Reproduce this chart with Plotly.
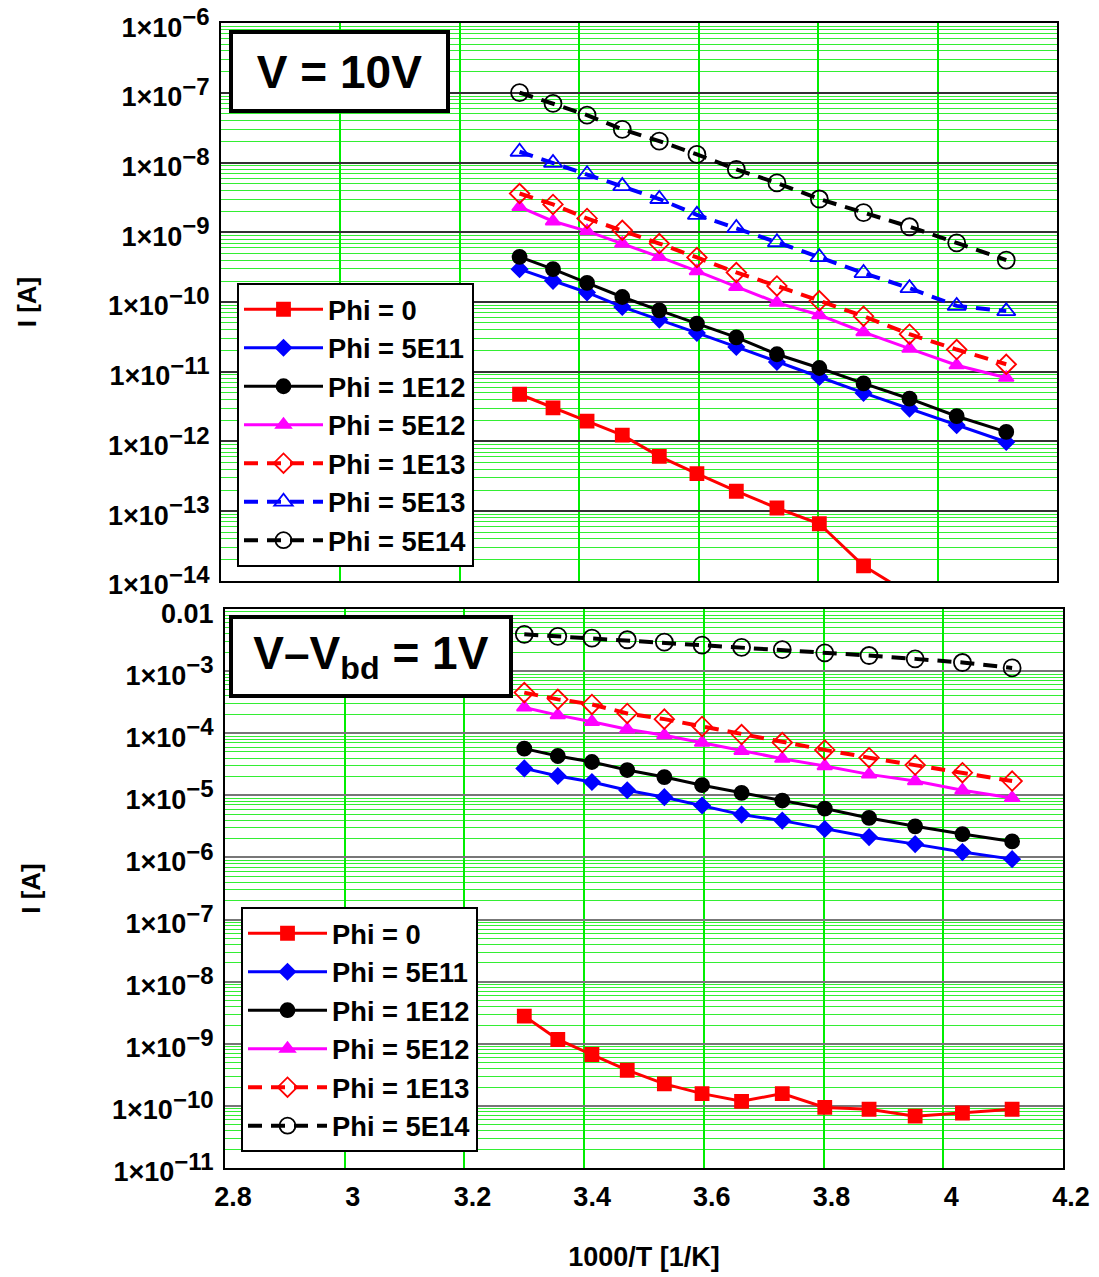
import plotly.graph_objects as go

# ---------------- data ----------------
inv_T = [3.300, 3.356, 3.413, 3.472, 3.534, 3.597, 3.663, 3.731, 3.802, 3.876, 3.953, 4.032, 4.115]

# V = 10 V
top_phi0 = [4.75e-12, 3.03e-12, 1.95e-12, 1.23e-12, 6.1e-13, 3.46e-13, 1.93e-13, 1.11e-13, 6.6e-14, 1.64e-14, 6.5e-15, 4.0e-15, 2.5e-15]
top_phi5e11 = [2.96e-10, 2.01e-10, 1.37e-10, 8.5e-11, 5.6e-11, 3.6e-11, 2.27e-11, 1.38e-11, 8.4e-12, 4.96e-12, 2.96e-12, 1.71e-12, 9.8e-13]
top_phi1e12 = [4.43e-10, 2.96e-10, 1.88e-10, 1.18e-10, 7.6e-11, 4.9e-11, 3.1e-11, 1.78e-11, 1.13e-11, 6.8e-12, 4.1e-12, 2.3e-12, 1.37e-12]
top_phi5e12 = [2.31e-9, 1.44e-9, 1.04e-9, 6.9e-10, 4.43e-10, 2.77e-10, 1.65e-10, 9.8e-11, 6.5e-11, 3.7e-11, 2.15e-11, 1.24e-11, 8.2e-12]
top_phi1e13 = [3.6e-9, 2.51e-9, 1.58e-9, 1.07e-9, 6.9e-10, 4.35e-10, 2.65e-10, 1.70e-10, 1.04e-10, 6.25e-11, 3.45e-11, 2.08e-11, 1.28e-11]
top_phi5e13 = [1.43e-8, 9.9e-9, 6.8e-9, 4.6e-9, 3.0e-9, 1.78e-9, 1.15e-9, 7.2e-10, 4.4e-10, 2.6e-10, 1.58e-10, 8.8e-11, 7.4e-11]
top_phi5e14 = [1.01e-7, 7.05e-8, 4.8e-8, 3.0e-8, 2.03e-8, 1.31e-8, 7.96e-9, 5.1e-9, 3.0e-9, 1.92e-9, 1.2e-9, 7.05e-10, 4.0e-10]

# V - Vbd = 1 V
bot_phi0 = [2.79e-9, 1.17e-9, 6.7e-10, 3.74e-10, 2.25e-10, 1.57e-10, 1.18e-10, 1.57e-10, 9.4e-11, 8.8e-11, 6.8e-11, 7.65e-11, 8.8e-11]
bot_phi5e11 = [2.72e-5, 2.05e-5, 1.64e-5, 1.21e-5, 9.35e-6, 6.86e-6, 4.9e-6, 3.92e-6, 2.87e-6, 2.13e-6, 1.64e-6, 1.22e-6, 9.4e-7]
bot_phi1e12 = [5.66e-5, 4.31e-5, 3.45e-5, 2.56e-5, 1.97e-5, 1.46e-5, 1.10e-5, 8.26e-6, 6.13e-6, 4.33e-6, 3.17e-6, 2.38e-6, 1.81e-6]
bot_phi5e12 = [2.61e-4, 1.96e-4, 1.53e-4, 1.16e-4, 9.3e-5, 7.1e-5, 5.2e-5, 3.9e-5, 2.97e-5, 2.18e-5, 1.70e-5, 1.21e-5, 9.1e-6]
bot_phi1e13 = [4.52e-4, 3.52e-4, 2.92e-4, 2.09e-4, 1.69e-4, 1.29e-4, 9.55e-5, 7.1e-5, 5.4e-5, 4.05e-5, 3.08e-5, 2.32e-5, 1.70e-5]
bot_phi5e14 = [3.93e-3, 3.64e-3, 3.42e-3, 3.21e-3, 2.95e-3, 2.64e-3, 2.42e-3, 2.22e-3, 1.98e-3, 1.79e-3, 1.58e-3, 1.38e-3, 1.13e-3]

top_names = ["Phi = 0", "Phi = 5E11", "Phi = 1E12", "Phi = 5E12", "Phi = 1E13", "Phi = 5E13", "Phi = 5E14"]
bot_names = ["Phi = 0", "Phi = 5E11", "Phi = 1E12", "Phi = 5E12", "Phi = 1E13", "Phi = 5E14"]

x_ticks = [2.8, 3.0, 3.2, 3.4, 3.6, 3.8, 4.0, 4.2]
x_ticktext = ["2.8", "3", "3.2", "3.4", "3.6", "3.8", "4", "4.2"]
top_exps = [-6, -7, -8, -9, -10, -11, -12, -13, -14]
bot_exps = [-3, -4, -5, -6, -7, -8, -9, -10, -11]

# ---------------- styles ----------------
STY = {
    "Phi = 0":    dict(color="#ff0000", symbol="square", size=13, dash="solid", width=3),
    "Phi = 5E11": dict(color="#0000ff", symbol="diamond", size=12, dash="solid", width=3),
    "Phi = 1E12": dict(color="#000000", symbol="circle", size=14, dash="solid", width=3),
    "Phi = 5E12": dict(color="#ff00ff", symbol="triangle-up", size=13, dash="solid", width=3),
    "Phi = 1E13": dict(color="#ff0000", symbol="diamond-open", size=15, dash="14px,9px", width=4),
    "Phi = 5E13": dict(color="#0000ff", symbol="triangle-up-open", size=16, dash="14px,9px", width=4),
    "Phi = 5E14": dict(color="#000000", symbol="circle-open", size=17, dash="14px,9px", width=4),
}

W, H = 1099, 1277
FONT = "Liberation Sans, Arial, sans-serif"

fig = go.Figure()

def add(y, name, xa, ya, leg):
    s = STY[name]
    fig.add_trace(go.Scatter(
        x=inv_T, y=y, name=name, mode="lines+markers",
        xaxis=xa, yaxis=ya, legend=leg,
        line=dict(color=s["color"], width=s["width"], dash=s["dash"]),
        marker=dict(symbol=s["symbol"], size=s["size"], color=s["color"],
                    line=dict(color=s["color"], width=1.8)),
    ))

for y, n in zip([top_phi0, top_phi5e11, top_phi1e12, top_phi5e12, top_phi1e13, top_phi5e13, top_phi5e14], top_names):
    add(y, n, "x", "y", "legend")
for y, n in zip([bot_phi0, bot_phi5e11, bot_phi1e12, bot_phi5e12, bot_phi1e13, bot_phi5e14], bot_names):
    add(y, n, "x2", "y2", "legend2")

def sup(e):
    return "1×10<sup><span style='font-size:24px'>−%d</span></sup>" % (-e)

tickfont = dict(family=FONT, size=27, color="black", weight="bold")

common_x = dict(range=[2.8, 4.2], tickvals=x_ticks, ticktext=x_ticktext, showgrid=True,
                gridcolor="#00ee00", gridwidth=1.5, showline=True, mirror=True,
                linecolor="black", linewidth=2, ticks="", zeroline=False, automargin=False)

fig.update_layout(
    width=W, height=H, margin=dict(l=0, r=0, t=0, b=0, autoexpand=False),
    paper_bgcolor="white", plot_bgcolor="white",
    font=dict(family=FONT, color="black", weight="bold"),
    xaxis=dict(common_x, domain=[221 / W, 1057 / W], anchor="y", showticklabels=False),
    xaxis2=dict(common_x, domain=[225 / W, 1063 / W], anchor="y2",
                tickfont=dict(family=FONT, size=27, color="black", weight="bold"),
                ticklabelstandoff=4, ticklabelshift=8,
                title=dict(text="1000/T [1/K]", standoff=36,
                           font=dict(family=FONT, size=27, color="black", weight="bold"))),
    yaxis=dict(type="log", range=[-14.002, -5.998], domain=[1 - 581 / H, 1 - 23 / H], anchor="x",
               tickvals=[10.0 ** e for e in top_exps], ticktext=[sup(e) for e in top_exps],
               tickfont=tickfont, ticks="", ticklabelstandoff=4, ticklabelshift=4, automargin=False,
               ticklabeloverflow="allow",
               showgrid=True, gridcolor="#333333", gridwidth=1.5,
               minor=dict(dtick="D1", showgrid=True, gridcolor="#33ee33", gridwidth=1),
               showline=True, mirror=True, linecolor="black", linewidth=2,
               title=dict(text="I [A]", standoff=64,
                          font=dict(family=FONT, size=26, color="black", weight="bold"))),
    yaxis2=dict(type="log", range=[-11.002, -1.998], domain=[1 - 1168 / H, 1 - 609 / H], anchor="x2",
                tickvals=[0.01] + [10.0 ** e for e in bot_exps], ticktext=["0.01"] + [sup(e) for e in bot_exps],
                tickfont=tickfont, ticks="", ticklabelstandoff=4, ticklabelshift=4, automargin=False,
                ticklabeloverflow="allow",
                showgrid=True, gridcolor="#777777", gridwidth=1.5,
                minor=dict(dtick="D1", showgrid=True, gridcolor="#33ee33", gridwidth=1),
                showline=True, mirror=True, linecolor="black", linewidth=2,
                title=dict(text="I [A]", standoff=64,
                           font=dict(family=FONT, size=26, color="black", weight="bold"))),
    legend=dict(x=237 / W, y=1 - 283 / H, xanchor="left", yanchor="top",
                bgcolor="white", bordercolor="black", borderwidth=2, itemwidth=79,
                font=dict(family=FONT, size=27.3, color="black", weight="bold")),
    legend2=dict(x=241 / W, y=1 - 907 / H, xanchor="left", yanchor="top",
                 bgcolor="white", bordercolor="black", borderwidth=2, itemwidth=79,
                 font=dict(family=FONT, size=27.3, color="black", weight="bold")),
    showlegend=True,
)

fig.add_annotation(xref="paper", yref="paper", x=339.5 / W, y=1 - 71.5 / H,
                   xanchor="center", yanchor="middle", showarrow=False,
                   text="V = 10V", width=213, height=75, borderpad=0,
                   bordercolor="black", borderwidth=4, bgcolor="white",
                   font=dict(family=FONT, size=46, color="black", weight="bold"))
fig.add_annotation(xref="paper", yref="paper", x=371 / W, y=1 - 656.5 / H,
                   xanchor="center", yanchor="middle", showarrow=False,
                   text="V–V<sub>bd</sub> = 1V", width=276, height=75, borderpad=0,
                   bordercolor="black", borderwidth=4, bgcolor="white",
                   font=dict(family=FONT, size=46, color="black", weight="bold"))

fig.write_html("out.html", config={"displayModeBar": False},
               post_script="document.body.style.margin='0px';")
